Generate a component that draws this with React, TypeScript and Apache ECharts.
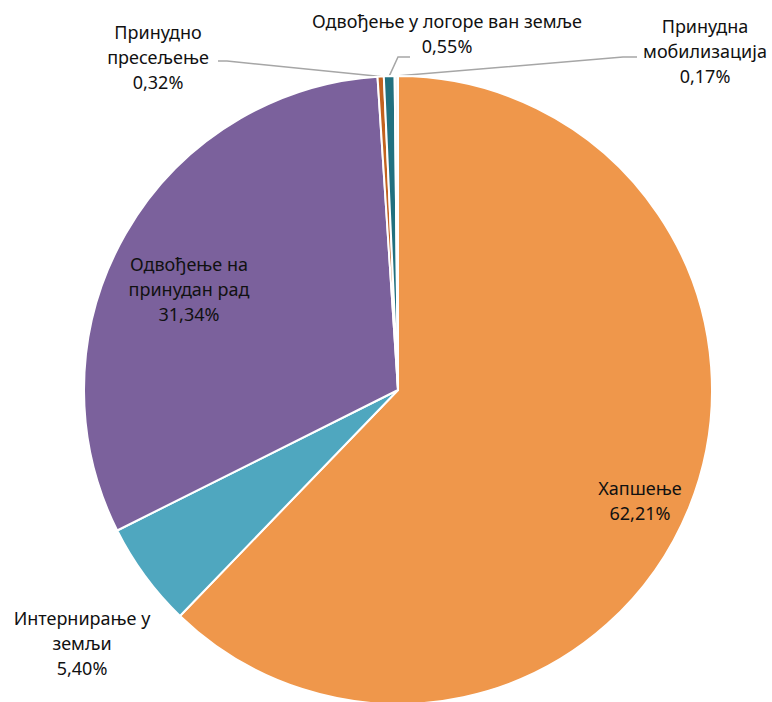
import React, { useEffect, useRef } from 'react';
import * as echarts from 'echarts';

const categories = [
  'Хапшење',
  'Интернирање у земљи',
  'Одвођење на принудан рад',
  'Принудно пресељење',
  'Одвођење у логоре ван земље',
  'Принудна мобилизација',
];
const labelTexts = [
  'Хапшење',
  'Интернирање у\nземљи',
  'Одвођење на\nпринудан рад',
  'Принудно\nпресељење',
  'Одвођење у логоре ван земље',
  'Принудна\nмобилизација',
];
const values = [62.21, 5.4, 31.34, 0.32, 0.55, 0.17];
const colors = ['#EF974B', '#4FA7BF', '#7B619C', '#C2621F', '#21707F', '#F4F4F4'];

const labelPos: number[][] = [
  [640, 500],
  [82, 643],
  [189, 289],
  [158, 57],
  [447, 33],
  [705, 51],
];
const leaderTail: Record<number, number[][]> = {
  3: [[227, 61], [218, 61]],
  4: [[398, 57], [410, 57]],
  5: [[623, 57], [637, 57]],
};

export default function App() {
  const ref = useRef<HTMLDivElement>(null);
  useEffect(() => {
    if (!ref.current) return;
    const chart = echarts.init(ref.current, undefined, { renderer: 'svg' });
    const data = categories.map((name, i) => ({
      name,
      value: values[i],
      itemStyle: { color: colors[i] },
      labelLine: { show: i >= 3 },
    }));
    chart.setOption({
      animation: false,
      backgroundColor: '#ffffff',
      series: [
        {
          type: 'pie',
          center: [398, 390],
          radius: [0, 314],
          startAngle: 90,
          clockwise: true,
          avoidLabelOverlap: false,
          itemStyle: { borderColor: '#ffffff', borderWidth: 2 },
          label: {
            show: true,
            position: 'outside',
            formatter: (p: any) =>
              labelTexts[p.dataIndex] + '\n' + values[p.dataIndex].toFixed(2).replace('.', ',') + '%',
            fontFamily: 'Noto Sans',
            fontSize: 18,
            lineHeight: 25,
            color: '#111111',
            align: 'center',
          },
          labelLine: {
            lineStyle: { color: '#A6A6A6', width: 1.5 },
            length: 10,
            length2: 10,
          },
          labelLayout: (p: any) => {
            const i = p.dataIndex;
            const [x, y] = labelPos[i];
            const r: any = { x, y, align: 'center', verticalAlign: 'middle' };
            if (leaderTail[i] && p.labelLinePoints) {
              r.labelLinePoints = [p.labelLinePoints[0], ...leaderTail[i]];
            }
            return r;
          },
          data,
        },
      ],
    });
    return () => chart.dispose();
  }, []);
  return (
    <div
      ref={ref}
      style={{ position: 'fixed', left: 0, top: 0, width: 772, height: 702 }}
    />
  );
}
